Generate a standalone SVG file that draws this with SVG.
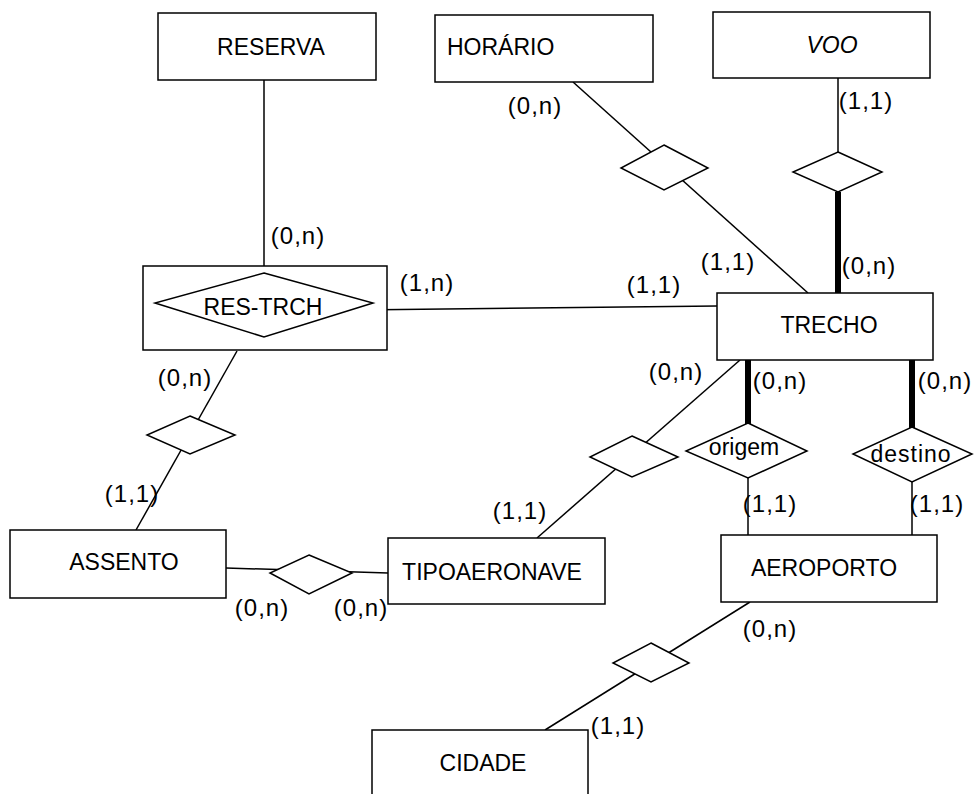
<svg xmlns="http://www.w3.org/2000/svg" width="974" height="794" viewBox="0 0 974 794">
  <style>
    .ent { fill: #fff; stroke: #000; stroke-width: 1.5; }
    .rel { fill: #fff; stroke: #000; stroke-width: 1.5; }
    .ln { stroke: #000; stroke-width: 1.5; fill: none; }
    .thick { stroke: #000; stroke-width: 6; fill: none; }
    text { font-family: "Liberation Sans", "DejaVu Sans", sans-serif; font-size: 23px; fill: #000; }
    .lbl { text-anchor: middle; dominant-baseline: central; }
    .card { font-size: 24px; letter-spacing: 1px; text-anchor: middle; dominant-baseline: central; }
    .role { font-size: 23px; text-anchor: middle; dominant-baseline: central; }
  </style>

  <!-- connectors (drawn first so diamonds sit on top) -->
  <g id="connectors">
    <line class="ln" x1="264" y1="80" x2="264" y2="273"/>
    <line class="ln" x1="573" y1="82" x2="808" y2="293"/>
    <line class="ln" x1="838" y1="78" x2="838" y2="152"/>
    <line class="thick" x1="838" y1="192" x2="838" y2="293"/>
    <line class="ln" x1="357" y1="310" x2="717" y2="306"/>
    <line class="ln" x1="237" y1="351" x2="136" y2="530"/>
    <line class="ln" x1="226" y1="568" x2="388" y2="573"/>
    <line class="ln" x1="537" y1="538" x2="740" y2="360"/>
    <line class="thick" x1="748" y1="360" x2="748" y2="425"/>
    <line class="ln" x1="748" y1="478" x2="748" y2="535"/>
    <line class="thick" x1="912" y1="360" x2="912" y2="430"/>
    <line class="ln" x1="912" y1="482" x2="912" y2="535"/>
    <line class="ln" x1="750" y1="602" x2="545" y2="730"/>
  </g>

  <!-- entities -->
  <g id="reserva">
    <rect class="ent" x="158" y="13" width="218" height="67"/>
    <text class="lbl" x="271" y="47">RESERVA</text>
  </g>
  <g id="horario">
    <rect class="ent" x="435" y="15" width="218" height="67"/>
    <text x="447" y="55">HORÁRIO</text>
  </g>
  <g id="voo">
    <rect class="ent" x="713" y="12" width="217" height="66"/>
    <text class="lbl" x="832" y="45" font-style="italic">VOO</text>
  </g>
  <g id="res-trch">
    <rect class="ent" x="143" y="266" width="244" height="84"/>
    <polygon class="rel" points="264,273 373,303 264,337 155,303"/>
    <text class="lbl" x="263" y="307">RES-TRCH</text>
  </g>
  <g id="trecho">
    <rect class="ent" x="717" y="293" width="216" height="67"/>
    <text class="lbl" x="829" y="325">TRECHO</text>
  </g>
  <g id="assento">
    <rect class="ent" x="10" y="530" width="216" height="68"/>
    <text class="lbl" x="124" y="562">ASSENTO</text>
  </g>
  <g id="tipoaeronave">
    <rect class="ent" x="388" y="538" width="217" height="66"/>
    <text class="lbl" x="492" y="572">TIPOAERONAVE</text>
  </g>
  <g id="aeroporto">
    <rect class="ent" x="721" y="535" width="216" height="67"/>
    <text class="lbl" x="824" y="568">AEROPORTO</text>
  </g>
  <g id="cidade">
    <rect class="ent" x="372" y="730" width="216" height="80"/>
    <text class="lbl" x="483" y="763">CIDADE</text>
  </g>

  <!-- relationships -->
  <g id="rel-horario-trecho">
    <polygon class="rel" points="664,145 708,168 664,190 621,168"/>
  </g>
  <g id="rel-voo-trecho">
    <polygon class="rel" points="838,152 882,172 838,192 793,172"/>
  </g>
  <g id="rel-restrch-assento">
    <polygon class="rel" points="190,416 235,435 190,454 147,435"/>
  </g>
  <g id="rel-assento-tipo">
    <polygon class="rel" points="309,555 352,573 309,594 270,573"/>
  </g>
  <g id="rel-tipo-trecho">
    <polygon class="rel" points="632,436 678,457 632,477 590,457"/>
  </g>
  <g id="origem">
    <polygon class="rel" points="748,423 807,451 748,478 686,451"/>
    <text class="role" x="744" y="447">origem</text>
  </g>
  <g id="destino">
    <polygon class="rel" points="912,427 972,454 912,482 853,454"/>
    <text class="role" x="911" y="454" letter-spacing="1">destino</text>
  </g>
  <g id="rel-aeroporto-cidade">
    <polygon class="rel" points="651,643 689,663 651,682 613,663"/>
  </g>

  <!-- cardinalities -->
  <g id="cardinalities">
    <text class="card" x="298" y="235">(0,n)</text>
    <text class="card" x="535" y="105">(0,n)</text>
    <text class="card" x="866" y="100">(1,1)</text>
    <text class="card" x="728" y="261">(1,1)</text>
    <text class="card" x="869" y="265">(0,n)</text>
    <text class="card" x="427" y="282">(1,n)</text>
    <text class="card" x="654" y="284">(1,1)</text>
    <text class="card" x="185" y="377">(0,n)</text>
    <text class="card" x="676" y="371">(0,n)</text>
    <text class="card" x="780" y="380">(0,n)</text>
    <text class="card" x="945" y="380">(0,n)</text>
    <text class="card" x="132" y="493">(1,1)</text>
    <text class="card" x="520" y="510">(1,1)</text>
    <text class="card" x="770" y="503">(1,1)</text>
    <text class="card" x="937" y="503">(1,1)</text>
    <text class="card" x="262" y="607">(0,n)</text>
    <text class="card" x="361" y="607">(0,n)</text>
    <text class="card" x="770" y="628">(0,n)</text>
    <text class="card" x="618" y="725">(1,1)</text>
  </g>
</svg>
